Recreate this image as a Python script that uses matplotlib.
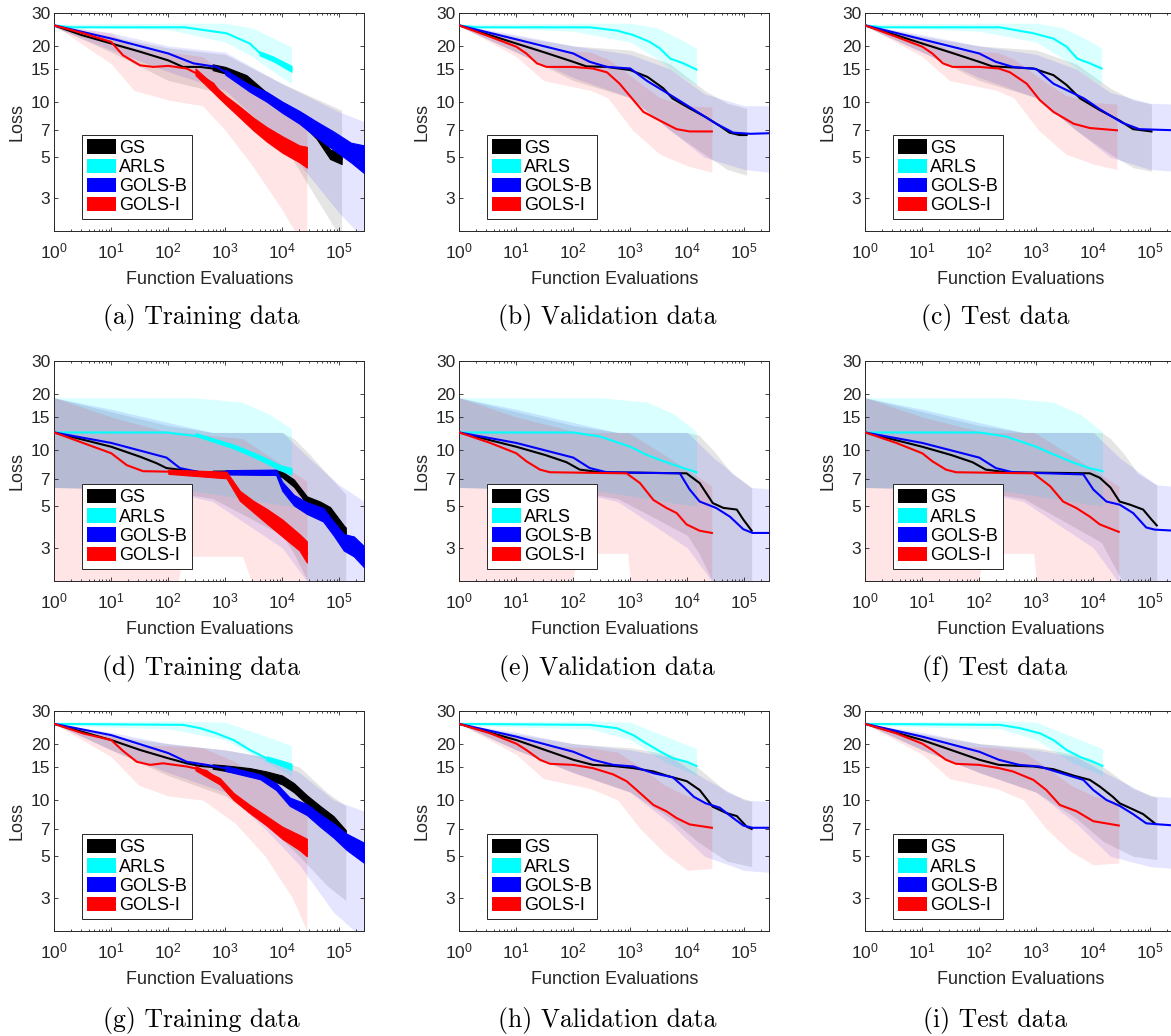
import matplotlib
matplotlib.use("Agg")
import matplotlib.pyplot as plt
from matplotlib.patches import Patch
from matplotlib.ticker import FixedLocator, FixedFormatter, LogLocator, NullFormatter, NullLocator

plt.rcParams['font.family'] = ['Liberation Sans', 'DejaVu Sans']
plt.rcParams['mathtext.fontset'] = 'custom'
plt.rcParams['mathtext.rm'] = 'Liberation Sans'
plt.rcParams['mathtext.it'] = 'Liberation Sans:italic'
plt.rcParams['mathtext.bf'] = 'Liberation Sans:bold'

# ---------------- data ----------------
methods = ['gs', 'ar', 'gb', 'gi']
method_labels = ['GS', 'ARLS', 'GOLS-B', 'GOLS-I']
method_colors = ['#000000', '#00FFFF', '#0000FF', '#FF0000']
band_alpha = [0.10, 0.15, 0.10, 0.10]
panel_ids = ['a', 'b', 'c', 'd', 'e', 'f', 'g', 'h', 'i']
captions = ['(a) Training data', '(b) Validation data', '(c) Test data',
            '(d) Training data', '(e) Validation data', '(f) Test data',
            '(g) Training data', '(h) Validation data', '(i) Test data']
x_ticks = [1, 10, 100, 1000, 1e4, 1e5]
x_tick_labels = [r'$\mathregular{10^{%d}}$' % k for k in range(6)]
y_ticks = [3, 5, 7, 10, 15, 20, 30]
y_tick_labels = ['3', '5', '7', '10', '15', '20', '30']

# ---- panel (a)
a_gs_x = [1, 3, 10, 32, 100, 180, 360, 1000, 2350, 5300, 1e4, 2e4, 4e4, 6.9e4, 1.1e5]
a_gs_y = [25.8, 22.9, 20.6, 18.6, 16.7, 15.4, 15.4, 14.8, 13.3, 10.6, 9.35, 8.25, 6.7, 5.2, 4.9]
a_gs_nx = [600, 1000, 2350, 5300, 1e4, 2e4, 4e4, 6.9e4, 1.1e5]
a_gs_nlo = [14.8, 14.2, 12.7, 10.1, 8.8, 7.8, 6.3, 4.9, 4.6]
a_gs_nhi = [15.9, 15.4, 13.9, 11.2, 9.9, 8.8, 7.1, 5.5, 5.3]
a_gs_bx = [1, 10, 100, 1000, 1e4, 1.1e5]
a_gs_lo = [25.4, 18.5, 13.0, 11.0, 6.0, 1.8]
a_gs_hi = [26.0, 22.5, 19.5, 18.0, 12.5, 9.0]
a_ar_x = [1, 2, 195, 1050, 2700, 4700, 6900, 1.45e4]
a_ar_y = [25.8, 25.2, 25.2, 23.4, 20.6, 17.5, 17.0, 15.1]
a_ar_nx = [4000, 7000, 1.45e4]
a_ar_nlo = [17.8, 16.5, 14.5]
a_ar_nhi = [18.7, 17.5, 15.6]
a_ar_bx = [1, 100, 1000, 3000, 7000, 1.45e4]
a_ar_lo = [25.5, 24.5, 21.0, 17.5, 14.5, 12.5]
a_ar_hi = [26.2, 26.5, 26.5, 25.0, 22.0, 19.7]
a_gb_x = [1, 10, 100, 275, 700, 1400, 2700, 5300, 1e4, 2e4, 4e4, 7.9e4, 1.6e5, 2.75e5]
a_gb_y = [25.8, 21.9, 18.2, 16.1, 15.4, 13.6, 11.8, 10.6, 9.35, 8.25, 7.1, 6.2, 5.4, 5.0]
a_gb_nx = [1000, 2700, 5300, 1e4, 2e4, 4e4, 7.9e4, 1.6e5, 2.75e5]
a_gb_nlo = [14.0, 11.3, 10.0, 8.7, 7.6, 6.4, 5.5, 4.7, 4.1]
a_gb_nhi = [14.9, 12.3, 11.3, 10.0, 8.9, 7.8, 6.9, 6.0, 5.8]
a_gb_bx = [1, 10, 100, 1000, 1e4, 1e5, 2.75e5]
a_gb_lo = [25.2, 19.0, 14.5, 11.5, 6.0, 2.5, 1.8]
a_gb_hi = [26.0, 23.5, 20.0, 18.5, 12.5, 8.8, 7.8]
a_gi_x = [1, 3.2, 10, 16, 32, 55, 100, 210, 360, 620, 1000, 1800, 3100, 5300, 1e4, 2e4, 2.7e4]
a_gi_y = [25.8, 23.4, 21.0, 17.8, 15.7, 15.4, 15.6, 15.1, 13.9, 12.5, 10.2, 8.8, 7.6, 6.7, 5.9, 5.2, 5.0]
a_gi_nx = [300, 1000, 1800, 3100, 5300, 1e4, 2e4, 2.7e4]
a_gi_nlo = [13.9, 9.7, 8.2, 7.0, 6.1, 5.3, 4.7, 4.4]
a_gi_nhi = [15.1, 10.8, 9.4, 8.2, 7.3, 6.5, 5.8, 5.7]
a_gi_bx = [1, 10, 25, 100, 400, 1000, 3000, 1e4, 2e4, 2.7e4]
a_gi_lo = [25.8, 16.0, 11.5, 10.2, 9.5, 7.0, 4.5, 2.6, 1.8, 1.7]
a_gi_hi = [25.8, 23.5, 19.5, 18.5, 17.5, 14.0, 11.0, 9.2, 8.8, 8.6]

# ---- panel (b)
b_gs_x = [1, 10, 32, 100, 170, 390, 1000, 2000, 3800, 5500, 1.1e4, 2.1e4, 3.7e4, 5.5e4, 8.3e4, 1.1e5]
b_gs_y = [25.8, 20.6, 18.4, 16.4, 15.5, 15.4, 14.8, 13.6, 11.8, 10.4, 9.2, 8.25, 7.4, 6.8, 6.6, 6.6]
b_gs_bx = [1, 10, 100, 1000, 5000, 2e4, 5e4, 1.1e5]
b_gs_lo = [25.5, 18.5, 13.0, 10.5, 7.0, 5.2, 4.3, 4.0]
b_gs_hi = [26.0, 22.5, 20.0, 19.0, 16.0, 11.5, 9.8, 9.2]
b_ar_x = [1, 2, 195, 580, 1130, 2200, 3300, 5000, 8500, 1.45e4]
b_ar_y = [25.8, 25.2, 25.2, 24.2, 22.9, 21.0, 19.4, 17.1, 16.1, 14.9]
b_ar_bx = [1, 100, 1000, 3000, 7000, 1.45e4]
b_ar_lo = [25.5, 24.0, 21.0, 17.0, 14.0, 12.2]
b_ar_hi = [26.2, 26.5, 26.5, 25.0, 22.0, 19.4]
b_gb_x = [1, 10, 100, 195, 390, 1000, 2000, 5200, 1.1e4, 3.2e4, 6.4e4, 1.3e5, 2.75e5]
b_gb_y = [25.8, 21.7, 18.2, 16.4, 15.4, 15.1, 12.9, 10.8, 9.35, 7.6, 6.8, 6.7, 6.75]
b_gb_bx = [1, 10, 100, 1000, 5000, 2e4, 1e5, 2.75e5]
b_gb_lo = [25.5, 18.5, 13.5, 10.5, 7.0, 5.0, 4.3, 4.15]
b_gb_hi = [26.0, 23.0, 20.0, 18.0, 15.0, 11.0, 9.5, 9.5]
b_gi_x = [1, 3.5, 10, 15, 23, 34, 100, 220, 390, 650, 1130, 1700, 3300, 6500, 1.1e4, 2.7e4]
b_gi_y = [25.8, 22.4, 19.8, 18.2, 16.1, 15.4, 15.4, 15.1, 14.4, 12.5, 10.2, 8.8, 7.9, 7.1, 6.9, 6.9]
b_gi_bx = [1, 10, 30, 200, 400, 1100, 3300, 1e4, 2.7e4]
b_gi_lo = [25.8, 17.5, 13.0, 11.5, 10.5, 7.0, 5.2, 4.5, 4.15]
b_gi_hi = [25.8, 22.0, 19.0, 18.5, 17.0, 13.5, 10.5, 9.5, 9.35]

# ---- panel (c)
c_gs_x = [1, 10, 32, 100, 170, 390, 890, 2000, 3400, 5900, 1.3e4, 2.9e4, 5e4, 1.05e5]
c_gs_y = [25.8, 20.6, 18.4, 16.4, 15.5, 15.3, 15.1, 13.9, 12.3, 10.4, 9.0, 7.9, 7.1, 6.9]
c_gs_bx = [1, 10, 100, 1000, 5000, 2e4, 5e4, 1.05e5]
c_gs_lo = [25.5, 18.5, 13.0, 10.5, 7.0, 5.2, 4.4, 4.2]
c_gs_hi = [26.0, 22.5, 20.0, 19.0, 16.0, 11.8, 10.2, 9.7]
c_ar_x = [1, 2, 230, 890, 2000, 3400, 5200, 8700, 1.4e4]
c_ar_y = [25.8, 25.2, 25.2, 23.4, 21.9, 19.8, 17.1, 16.1, 15.1]
c_ar_bx = [1, 100, 1000, 3000, 7000, 1.4e4]
c_ar_lo = [25.5, 24.0, 21.0, 17.0, 14.0, 12.3]
c_ar_hi = [26.2, 26.5, 26.5, 25.0, 22.0, 19.5]
c_gb_x = [1, 10, 100, 195, 390, 1000, 2000, 6900, 1.3e4, 3.2e4, 6.4e4, 1.3e5, 2.75e5]
c_gb_y = [25.8, 21.7, 18.2, 16.4, 15.4, 15.0, 12.5, 10.4, 9.1, 7.7, 7.1, 7.05, 7.0]
c_gb_bx = [1, 10, 100, 1000, 5000, 2e4, 1e5, 2.75e5]
c_gb_lo = [25.5, 18.5, 13.5, 10.5, 7.0, 5.0, 4.3, 4.2]
c_gb_hi = [26.0, 23.0, 20.0, 18.0, 15.0, 11.2, 9.8, 9.7]
c_gi_x = [1, 3.5, 10, 15, 23, 34, 100, 220, 345, 680, 1150, 2000, 4500, 8700, 2.6e4]
c_gi_y = [25.8, 22.4, 19.8, 18.2, 16.1, 15.4, 15.4, 15.1, 14.4, 12.5, 10.2, 8.8, 7.6, 7.2, 7.0]
c_gi_bx = [1, 10, 30, 200, 400, 1100, 3300, 1e4, 2.6e4]
c_gi_lo = [25.8, 17.5, 13.0, 11.5, 10.5, 7.0, 5.2, 4.6, 4.3]
c_gi_hi = [25.8, 22.0, 19.0, 18.5, 17.0, 13.5, 10.8, 9.9, 9.7]

# ---- panel (d)
d_gs_x = [1, 10, 32, 62, 93, 180, 360, 7800, 1e4, 1.6e4, 2.7e4, 4.6e4, 6.9e4, 1.2e5, 1.3e5]
d_gs_y = [12.4, 10.4, 9.2, 8.5, 8.0, 7.8, 7.6, 7.6, 7.4, 6.65, 5.4, 5.0, 4.6, 3.7, 3.6]
d_gs_nx = [600, 7800, 1e4, 1.6e4, 2.7e4, 4.6e4, 6.9e4, 1.2e5, 1.3e5]
d_gs_nlo = [7.45, 7.4, 7.15, 6.35, 5.15, 4.7, 4.25, 3.5, 3.4]
d_gs_nhi = [7.75, 7.8, 7.65, 6.95, 5.65, 5.3, 4.95, 3.95, 3.85]
d_gs_bx = [1, 10, 100, 600, 1e4, 1.6e4, 3e4, 6e4, 1.3e5]
d_gs_lo = [6.3, 6.2, 6.0, 5.5, 3.5, 2.8, 1.9, 1.8, 1.8]
d_gs_hi = [19.0, 16.0, 13.5, 12.4, 12.4, 11.5, 9.5, 7.5, 5.8]
d_ar_x = [1, 93, 360, 1380, 3100, 5300, 9100, 1.45e4]
d_ar_y = [12.4, 12.4, 11.8, 10.4, 9.4, 8.7, 8.0, 7.7]
d_ar_nx = [300, 1380, 3100, 5300, 9100, 1.45e4]
d_ar_nlo = [11.9, 10.2, 9.2, 8.5, 7.8, 7.4]
d_ar_nhi = [12.3, 10.7, 9.7, 9.0, 8.3, 8.0]
d_ar_bx = [1, 300, 2000, 6000, 1.45e4]
d_ar_lo = [6.3, 6.0, 5.5, 5.2, 5.0]
d_ar_hi = [19.0, 19.0, 18.0, 15.5, 13.0]
d_gb_x = [1, 10, 93, 160, 360, 7800, 1e4, 1.6e4, 2.7e4, 5.2e4, 7.9e4, 1.2e5, 1.8e5, 2.75e5]
d_gb_y = [12.4, 10.9, 9.1, 8.0, 7.6, 7.6, 6.4, 5.4, 4.9, 4.5, 3.8, 3.2, 3.05, 2.7]
d_gb_nx = [1000, 7800, 1e4, 1.6e4, 2.7e4, 5.2e4, 7.9e4, 1.2e5, 1.8e5, 2.75e5]
d_gb_nlo = [7.4, 7.35, 6.05, 5.05, 4.55, 4.15, 3.5, 2.9, 2.7, 2.35]
d_gb_nhi = [7.8, 7.85, 6.75, 5.75, 5.25, 4.9, 4.15, 3.55, 3.45, 3.05]
d_gb_bx = [1, 10, 100, 600, 1e4, 3e4, 1e5, 2.75e5]
d_gb_lo = [6.3, 6.2, 6.0, 5.3, 3.0, 1.9, 1.5, 1.5]
d_gb_hi = [19.0, 16.5, 14.0, 12.4, 12.4, 9.0, 6.5, 5.3]
d_gi_x = [1, 3.2, 10, 18.6, 36, 360, 1050, 1800, 3100, 5300, 1e4, 2e4, 2.7e4]
d_gi_y = [12.4, 10.9, 9.6, 8.3, 7.7, 7.6, 7.3, 5.65, 5.0, 4.4, 3.8, 3.2, 2.8]
d_gi_nx = [100, 1050, 1800, 3100, 5300, 1e4, 2e4, 2.7e4]
d_gi_nlo = [7.45, 7.05, 5.35, 4.65, 4.05, 3.45, 2.9, 2.5]
d_gi_nhi = [7.85, 7.65, 6.05, 5.35, 4.85, 4.25, 3.55, 3.25]
d_gi_bx = [1, 10, 100, 130, 180, 2000, 4000, 2.7e4]
d_gi_lo = [1.5, 1.5, 1.6, 1.6, 2.7, 2.7, 1.5, 1.5]
d_gi_hi = [19.0, 15.0, 12.4, 12.4, 12.4, 11.5, 10.0, 6.8]

# ---- panel (e)
e_gs_x = [1, 10, 32, 76, 130, 295, 9700, 1.65e4, 2.8e4, 4.3e4, 7.4e4, 9.6e4, 1.35e5]
e_gs_y = [12.4, 10.4, 9.4, 8.6, 7.85, 7.6, 7.5, 6.65, 5.2, 4.9, 4.8, 4.25, 3.7]
e_gs_bx = [1, 10, 100, 600, 1e4, 1.6e4, 3e4, 6e4, 1.35e5]
e_gs_lo = [6.3, 6.2, 6.0, 5.5, 3.5, 2.8, 1.9, 1.8, 1.8]
e_gs_hi = [19.0, 16.0, 13.5, 12.4, 12.4, 12.0, 9.8, 7.5, 6.3]
e_ar_x = [1, 100, 295, 1000, 1950, 4300, 8500, 1.45e4]
e_ar_y = [12.4, 12.4, 11.8, 10.4, 9.4, 8.6, 8.0, 7.6]
e_ar_bx = [1, 300, 2000, 6000, 1.45e4]
e_ar_lo = [6.3, 6.0, 5.5, 5.2, 5.0]
e_ar_hi = [19.0, 19.0, 18.0, 15.5, 12.5]
e_gb_x = [1, 10, 100, 195, 385, 7400, 1.1e4, 1.65e4, 3.2e4, 5.6e4, 9.6e4, 1.4e5, 2.75e5]
e_gb_y = [12.4, 10.9, 9.1, 8.0, 7.6, 7.5, 6.15, 5.3, 4.9, 4.4, 3.77, 3.6, 3.6]
e_gb_bx = [1, 10, 100, 600, 1e4, 3e4, 1.3e5, 2.75e5]
e_gb_lo = [6.3, 6.2, 6.0, 5.3, 3.0, 1.9, 1.5, 1.5]
e_gb_hi = [19.0, 16.5, 14.0, 12.4, 12.4, 9.0, 6.3, 6.2]
e_gi_x = [1, 3.5, 10, 15, 26, 39, 860, 1480, 2550, 4300, 6500, 9700, 1.65e4, 2.7e4]
e_gi_y = [12.4, 10.9, 9.6, 8.7, 7.85, 7.6, 7.5, 6.65, 5.4, 4.9, 4.6, 4.0, 3.7, 3.6]
e_gi_bx = [1, 10, 80, 120, 900, 1100, 5000, 2.7e4]
e_gi_lo = [1.5, 1.5, 1.5, 2.8, 2.8, 1.5, 1.5, 1.5]
e_gi_hi = [19.0, 15.0, 12.8, 12.4, 12.4, 12.0, 9.0, 6.4]

# ---- panel (f)
f_gs_x = [1, 10, 32, 76, 130, 295, 8700, 1.3e4, 2e4, 2.9e4, 4.4e4, 7.5e4, 1.05e5, 1.3e5]
f_gs_y = [12.4, 10.4, 9.4, 8.6, 7.85, 7.6, 7.5, 7.1, 6.3, 5.3, 5.1, 4.8, 4.25, 3.95]
f_gs_bx = [1, 10, 100, 600, 1.4e4, 2e4, 3.5e4, 6e4, 1.3e5]
f_gs_lo = [6.3, 6.2, 6.0, 5.5, 3.2, 2.6, 1.9, 1.8, 1.8]
f_gs_hi = [19.0, 16.0, 13.5, 12.4, 12.4, 11.5, 9.5, 7.5, 6.5]
f_ar_x = [1, 100, 295, 1000, 1950, 4300, 8500, 1.45e4]
f_ar_y = [12.4, 12.4, 11.8, 10.4, 9.5, 8.6, 8.0, 7.7]
f_ar_bx = [1, 300, 2000, 6000, 1.45e4]
f_ar_lo = [6.3, 6.0, 5.5, 5.2, 5.0]
f_ar_hi = [19.0, 19.0, 18.0, 15.5, 12.5]
f_gb_x = [1, 10, 100, 195, 385, 6700, 1e4, 1.7e4, 2.9e4, 5e4, 8.5e4, 1.2e5, 2.75e5]
f_gb_y = [12.4, 10.9, 9.1, 8.0, 7.6, 7.4, 6.15, 5.3, 5.1, 4.6, 3.85, 3.75, 3.7]
f_gb_bx = [1, 10, 100, 600, 1e4, 3e4, 1.3e5, 2.75e5]
f_gb_lo = [6.3, 6.2, 6.0, 5.3, 3.0, 1.9, 1.5, 1.5]
f_gb_hi = [19.0, 16.5, 14.0, 12.4, 12.4, 9.0, 6.5, 6.4]
f_gi_x = [1, 3.5, 10, 15, 26, 39, 890, 1750, 2950, 5000, 8700, 1.3e4, 2.8e4]
f_gi_y = [12.4, 10.9, 9.6, 8.7, 7.85, 7.6, 7.5, 6.4, 5.3, 4.9, 4.4, 4.0, 3.65]
f_gi_bx = [1, 10, 80, 120, 900, 1100, 5000, 2.8e4]
f_gi_lo = [1.5, 1.5, 1.5, 2.8, 2.8, 1.5, 1.5, 1.5]
f_gi_hi = [19.0, 15.0, 12.8, 12.4, 12.4, 12.0, 9.0, 6.4]

# ---- panel (g)
g_gs_x = [1, 10, 32, 100, 210, 360, 1000, 2700, 5300, 1e4, 1.6e4, 2.7e4, 4.6e4, 7.9e4, 1.3e5]
g_gs_y = [25.5, 20.9, 18.5, 16.7, 15.7, 15.2, 14.8, 14.2, 13.6, 12.8, 11.6, 10.0, 8.7, 7.7, 6.5]
g_gs_nx = [600, 1000, 2700, 5300, 1e4, 1.6e4, 2.7e4, 4.6e4, 7.9e4, 1.3e5]
g_gs_nlo = [14.7, 14.3, 13.6, 13.0, 12.1, 11.0, 9.5, 8.2, 7.2, 6.1]
g_gs_nhi = [15.5, 15.3, 14.8, 14.2, 13.5, 12.3, 10.6, 9.3, 8.2, 6.9]
g_gs_bx = [1, 10, 100, 1000, 5000, 2e4, 6e4, 1.3e5]
g_gs_lo = [25.5, 18.5, 13.5, 10.5, 7.5, 5.0, 3.5, 2.9]
g_gs_hi = [25.5, 22.0, 20.0, 18.5, 17.0, 15.0, 11.0, 9.3]
g_ar_x = [1, 183, 360, 700, 1400, 2700, 5300, 1e4, 1.45e4]
g_ar_y = [25.5, 25.2, 24.2, 22.7, 20.9, 18.5, 16.7, 15.7, 15.1]
g_ar_nx = [5300, 1e4, 1.45e4]
g_ar_nlo = [16.3, 15.2, 14.5]
g_ar_nhi = [17.1, 16.2, 15.6]
g_ar_bx = [1, 100, 1000, 5000, 1.45e4]
g_ar_lo = [25.0, 24.0, 21.0, 16.0, 13.5]
g_ar_hi = [26.0, 26.5, 26.0, 22.0, 19.5]
g_gb_x = [1, 10, 100, 210, 470, 1400, 4100, 7800, 1.35e4, 2.7e4, 4.6e4, 7.9e4, 1.35e5, 2.75e5]
g_gb_y = [25.5, 22.2, 17.8, 16.0, 15.4, 14.5, 13.3, 11.8, 9.8, 8.9, 7.8, 6.9, 6.0, 5.2]
g_gb_nx = [1000, 4100, 7800, 1.35e4, 2.7e4, 4.6e4, 7.9e4, 1.35e5, 2.75e5]
g_gb_nlo = [14.3, 12.9, 11.3, 9.3, 8.3, 7.2, 6.3, 5.4, 4.6]
g_gb_nhi = [15.2, 13.7, 12.3, 10.3, 9.5, 8.4, 7.5, 6.6, 5.9]
g_gb_bx = [1, 10, 100, 1000, 5000, 2e4, 8e4, 2.75e5]
g_gb_lo = [25.5, 18.5, 14.0, 11.0, 7.0, 4.5, 2.5, 1.8]
g_gb_hi = [25.5, 23.0, 20.0, 18.5, 17.0, 14.0, 10.0, 8.7]
g_gi_x = [1, 3.2, 10, 16, 28, 48, 81, 210, 470, 800, 1400, 2700, 5300, 1e4, 2e4, 2.7e4]
g_gi_y = [25.5, 22.7, 20.9, 18.3, 16.0, 15.4, 15.7, 15.1, 14.3, 12.6, 10.4, 8.9, 7.7, 6.65, 5.9, 5.5]
g_gi_nx = [300, 800, 1400, 2700, 5300, 1e4, 2e4, 2.7e4]
g_gi_nlo = [14.4, 12.1, 10.0, 8.5, 7.3, 6.2, 5.4, 5.0]
g_gi_nhi = [15.2, 13.1, 10.9, 9.4, 8.2, 7.2, 6.5, 6.2]
g_gi_bx = [1, 10, 30, 100, 400, 1500, 5000, 1.5e4, 2.7e4]
g_gi_lo = [25.5, 17.0, 12.0, 10.5, 10.0, 7.5, 5.0, 3.0, 2.0]
g_gi_hi = [25.5, 22.0, 19.5, 19.5, 19.0, 16.0, 12.5, 10.0, 9.0]

# ---- panel (h)
h_gs_x = [1, 10, 32, 100, 220, 500, 1130, 2550, 4300, 9800, 1.65e4, 2.8e4, 4.9e4, 7.4e4, 1.1e5, 1.35e5]
h_gs_y = [25.5, 20.9, 18.5, 16.4, 15.4, 15.2, 14.8, 14.2, 13.5, 12.6, 11.3, 9.2, 8.5, 8.2, 7.2, 7.0]
h_gs_bx = [1, 10, 100, 1000, 5000, 1.5e4, 5e4, 1.35e5]
h_gs_lo = [25.5, 18.5, 14.0, 11.0, 8.0, 6.0, 4.7, 4.4]
h_gs_hi = [25.5, 22.5, 20.0, 19.0, 17.5, 15.0, 11.0, 9.8]
h_ar_x = [1, 195, 580, 1130, 1950, 3300, 5600, 9800, 1.45e4]
h_ar_y = [25.5, 25.2, 24.2, 22.2, 20.0, 18.2, 16.7, 16.0, 15.2]
h_ar_bx = [1, 200, 1000, 4000, 1.45e4]
h_ar_lo = [25.0, 24.0, 21.0, 16.0, 13.5]
h_ar_hi = [26.0, 26.5, 26.0, 22.0, 18.8]
h_gb_x = [1, 10, 100, 220, 500, 1130, 2550, 5600, 8500, 1.3e4, 2.1e4, 3.7e4, 6.4e4, 9.6e4, 1.4e5, 2.75e5]
h_gb_y = [25.5, 21.8, 18.1, 16.4, 15.4, 15.1, 13.9, 13.2, 11.8, 10.4, 9.6, 9.1, 8.0, 7.3, 7.1, 7.1]
h_gb_bx = [1, 10, 100, 1000, 5000, 2e4, 1e5, 2.75e5]
h_gb_lo = [25.5, 18.5, 14.0, 11.0, 7.5, 5.0, 4.2, 4.1]
h_gb_hi = [25.5, 23.0, 20.0, 18.5, 17.0, 13.0, 10.0, 9.8]
h_gi_x = [1, 3.5, 10, 15, 26, 39, 100, 220, 500, 860, 1480, 2550, 4300, 6500, 1.1e4, 2.7e4]
h_gi_y = [25.5, 22.7, 20.0, 18.5, 16.4, 15.6, 15.4, 14.8, 13.7, 12.6, 10.9, 9.4, 8.7, 8.0, 7.4, 7.1]
h_gi_bx = [1, 10, 30, 200, 600, 1500, 4000, 1e4, 2.7e4]
h_gi_lo = [25.5, 17.5, 13.0, 11.5, 10.0, 7.0, 5.2, 4.2, 4.3]
h_gi_hi = [25.5, 22.0, 19.5, 19.0, 18.0, 15.0, 12.0, 10.5, 9.5]

# ---- panel (i)
i_gs_x = [1, 10, 32, 100, 220, 500, 890, 2000, 4500, 8700, 1.3e4, 2.2e4, 2.9e4, 5e4, 7.5e4, 1.2e5]
i_gs_y = [25.5, 20.9, 18.5, 16.4, 15.4, 15.2, 15.1, 14.6, 13.5, 12.8, 11.8, 10.4, 9.6, 8.9, 8.4, 7.5]
i_gs_bx = [1, 10, 100, 1000, 5000, 1.5e4, 5e4, 1.3e5]
i_gs_lo = [25.5, 18.5, 14.0, 11.0, 8.0, 6.0, 5.0, 4.8]
i_gs_hi = [25.5, 22.5, 20.0, 19.0, 17.5, 15.0, 11.5, 10.3]
i_ar_x = [1, 230, 520, 1160, 2000, 3400, 5800, 1e4, 1.45e4]
i_ar_y = [25.5, 25.2, 24.2, 22.7, 20.9, 18.5, 17.0, 16.0, 15.2]
i_ar_bx = [1, 230, 1000, 4000, 1.45e4]
i_ar_lo = [25.0, 24.0, 21.0, 16.0, 13.5]
i_ar_hi = [26.0, 26.5, 26.0, 22.0, 18.8]
i_gb_x = [1, 10, 100, 220, 500, 1130, 2550, 6700, 1e4, 1.7e4, 2.9e4, 5e4, 8.5e4, 1.45e5, 2.75e5]
i_gb_y = [25.5, 21.8, 18.1, 16.4, 15.4, 15.1, 14.0, 12.8, 11.3, 10.0, 9.3, 8.4, 7.5, 7.4, 7.3]
i_gb_bx = [1, 10, 100, 1000, 5000, 2e4, 1e5, 2.75e5]
i_gb_lo = [25.5, 18.5, 14.0, 11.0, 7.5, 5.0, 4.4, 4.3]
i_gb_hi = [25.5, 23.0, 20.0, 18.5, 17.0, 13.5, 10.5, 10.3]
i_gi_x = [1, 3.5, 10, 15, 26, 39, 100, 220, 390, 890, 1500, 2600, 5100, 1e4, 2.8e4]
i_gi_y = [25.5, 22.7, 20.0, 18.5, 16.4, 15.6, 15.4, 14.8, 14.2, 12.8, 11.3, 9.4, 8.7, 7.7, 7.3]
i_gi_bx = [1, 10, 30, 200, 600, 1500, 4000, 1e4, 2.8e4]
i_gi_lo = [25.5, 17.5, 13.0, 11.5, 10.0, 7.0, 5.3, 4.5, 4.6]
i_gi_hi = [25.5, 22.0, 19.5, 19.0, 18.0, 15.0, 12.0, 10.5, 9.8]

# ---------------- layout (pixels of the 1171x1036 canvas) ----------------
W, H = 1171, 1036
col_left = [54.3, 459.3, 865.3]
ax_w = 310.0
row_top = [13.3, 360.7, 710.7]
row_h = [217.7, 220.0, 220.0]
cap_x = [201, 607, 995]
cap_y = [318, 668, 1020]

fig = plt.figure(figsize=(W / 100, H / 100), dpi=100)
G = globals()
tick_color = '#262626'

for idx, pid in enumerate(panel_ids):
    r, c = divmod(idx, 3)
    left = col_left[c] / W
    bottom = 1 - (row_top[r] + row_h[r]) / H
    ax = fig.add_axes([left, bottom, ax_w / W, row_h[r] / H])
    ax.set_xscale('log')
    ax.set_yscale('log')

    # bands
    for m, col, al in zip(methods, method_colors, band_alpha):
        ax.fill_between(G[f'{pid}_{m}_bx'], G[f'{pid}_{m}_lo'], G[f'{pid}_{m}_hi'],
                        color=col, alpha=al, lw=0, zorder=1)
    # lines (+ noise envelopes)
    for k, (m, col) in enumerate(zip(methods, method_colors)):
        if f'{pid}_{m}_nx' in G:
            ax.fill_between(G[f'{pid}_{m}_nx'], G[f'{pid}_{m}_nlo'], G[f'{pid}_{m}_nhi'],
                            color=col, lw=0.8, edgecolor=col, zorder=2 + k)
        ax.plot(G[f'{pid}_{m}_x'], G[f'{pid}_{m}_y'], color=col, lw=1.5,
                zorder=2 + k, solid_joinstyle='round')

    ax.set_xlim(1, 2.75e5)
    ax.set_ylim(2, 30)
    ax.xaxis.set_major_locator(FixedLocator(x_ticks))
    ax.xaxis.set_major_formatter(FixedFormatter(x_tick_labels))
    ax.xaxis.set_minor_locator(LogLocator(base=10, subs=range(2, 10), numticks=20))
    ax.xaxis.set_minor_formatter(NullFormatter())
    ax.yaxis.set_major_locator(FixedLocator(y_ticks))
    ax.yaxis.set_major_formatter(FixedFormatter(y_tick_labels))
    ax.yaxis.set_minor_locator(NullLocator())
    ax.tick_params(which='both', direction='in', top=True, right=True,
                   colors=tick_color, width=0.6)
    ax.tick_params(which='major', length=3, labelsize=12.5)
    ax.tick_params(which='minor', length=1.6)
    ax.tick_params(axis='x', which='major', pad=7.5)
    ax.tick_params(axis='y', which='major', pad=3)
    for s in ax.spines.values():
        s.set_color(tick_color)
        s.set_linewidth(0.7)

    ax.set_xlabel('Function Evaluations', fontsize=13, color=tick_color)
    ax.set_ylabel('Loss', fontsize=13, color=tick_color)
    ax.xaxis.set_label_coords(0.5, -49 / row_h[r])
    ax.xaxis.label.set_verticalalignment('center')
    ax.yaxis.set_label_coords(-37 / ax_w, 0.5)
    ax.yaxis.label.set_verticalalignment('center')

    handles = [Patch(facecolor=col, edgecolor='none') for col in method_colors]
    leg = ax.legend(handles, method_labels, loc='lower left',
                    bbox_to_anchor=(28 / ax_w, 12 / row_h[r]), borderaxespad=0,
                    fontsize=13, handlelength=1.6, handleheight=0.85,
                    handletextpad=0.2, labelspacing=0.1, borderpad=0.25,
                    fancybox=False, framealpha=1, edgecolor=tick_color)
    leg.get_frame().set_linewidth(0.7)
    leg.set_zorder(10)

    fig.text(cap_x[c] / W, 1 - cap_y[r] / H, captions[idx], family='cmr10',
             fontsize=18.5, ha='center', va='center')

fig.savefig('out.png', dpi=100)
